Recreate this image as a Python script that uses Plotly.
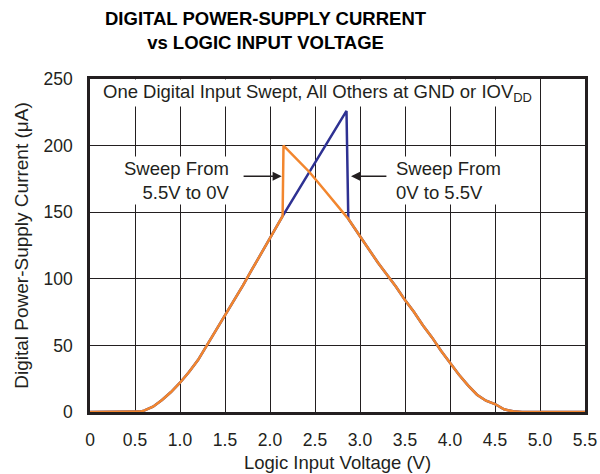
import plotly.graph_objects as go

# Shared rising portion (both sweep directions), logic input voltage (V) vs current (uA)
rise_v = [0.0, 0.5, 0.55, 0.6, 0.7, 0.8, 0.9, 1.0, 1.1, 1.2, 1.3, 1.4, 1.5,
          1.6, 1.7, 1.8, 1.9, 2.0, 2.14]
rise_i = [0, 0, 0.3, 1, 4, 9, 15, 22, 30, 39, 50, 61, 72, 83, 95, 107, 119, 131, 147]

# Upward sweep (0V to 5.5V) keeps climbing until it snaps down
up_v = [2.85, 2.87]
up_i = [226, 145]

# Downward sweep (5.5V to 0V) upper branch before its snap
down_v = [2.15, 2.3, 2.44, 2.6, 2.75, 2.87]
down_i = [200, 190, 180, 167, 155, 145]

# Shared falling portion
fall_v = [2.87, 3.0, 3.1, 3.2, 3.3, 3.4, 3.5, 3.6, 3.7, 3.8, 3.9, 4.0, 4.1,
          4.2, 4.3, 4.4, 4.5, 4.6, 4.7, 4.8, 5.5]
fall_i = [145, 132, 122, 112, 103, 94, 84, 75, 65, 56, 46, 37, 28, 20, 13,
          8.5, 6, 2, 0.5, 0, 0]

x_ticks = [0, 0.5, 1.0, 1.5, 2.0, 2.5, 3.0, 3.5, 4.0, 4.5, 5.0, 5.5]
x_tick_text = ["0", "0.5", "1.0", "1.5", "2.0", "2.5", "3.0", "3.5", "4.0", "4.5", "5.0", "5.5"]
y_ticks = [0, 50, 100, 150, 200, 250]

BLUE = "#2e3192"
ORANGE = "#f2862e"
INK = "#231f20"
FONT = "Liberation Sans, Arial, sans-serif"

fig = go.Figure()
fig.add_trace(go.Scatter(
    x=rise_v + up_v + fall_v[1:], y=rise_i + up_i + fall_i[1:],
    mode="lines", line=dict(color=BLUE, width=2.5), showlegend=False))
fig.add_trace(go.Scatter(
    x=rise_v + down_v + fall_v[1:], y=rise_i + down_i + fall_i[1:],
    mode="lines", line=dict(color=ORANGE, width=2.5), showlegend=False))

# Chart title
fig.add_annotation(
    x=(266 - 90) / 495, y=1 + (79 - 30) / 333, xref="paper", yref="paper",
    xanchor="center", yanchor="middle", showarrow=False,
    text="<b>DIGITAL POWER-SUPPLY CURRENT<br>vs LOGIC INPUT VOLTAGE</b>",
    font=dict(family=FONT, size=18.5, color="black"))

fig.add_annotation(
    x=0.12, y=250, xref="x", yref="y", xanchor="left", yanchor="top",
    text="One Digital Input Swept, All Others at GND or IOV<sub>DD</sub>",
    showarrow=False, bgcolor="white", borderpad=1,
    font=dict(family=FONT, size=18.5, color=INK))

fig.add_annotation(
    x=1.578, y=173.5, xref="x", yref="y", xanchor="right", yanchor="middle",
    align="right", text="Sweep From<br>5.5V to 0V", showarrow=False,
    bgcolor="white", font=dict(family=FONT, size=18.5, color=INK))
fig.add_annotation(
    x=3.378, y=173.5, xref="x", yref="y", xanchor="left", yanchor="middle",
    align="left", text="Sweep From<br>0V to 5.5V", showarrow=False,
    bgcolor="white", font=dict(family=FONT, size=18.5, color=INK))

# Direction arrows
fig.add_annotation(x=2.13, y=177, ax=1.69, ay=177, xref="x", yref="y",
                   axref="x", ayref="y", text="", showarrow=True,
                   arrowhead=2, arrowsize=1.3, arrowwidth=1.4, arrowcolor=INK)
fig.add_annotation(x=2.90, y=177, ax=3.31, ay=177, xref="x", yref="y",
                   axref="x", ayref="y", text="", showarrow=True,
                   arrowhead=2, arrowsize=1.3, arrowwidth=1.4, arrowcolor=INK)

fig.update_layout(
    width=600, height=474,
    margin=dict(l=90, r=15, t=79, b=62),
    paper_bgcolor="white", plot_bgcolor="white",
    font=dict(family=FONT, size=17.5, color=INK),
)
fig.update_xaxes(
    range=[0, 5.5], tickvals=x_ticks, ticktext=x_tick_text, automargin=False,
    showgrid=True, gridcolor=INK, gridwidth=1.2,
    showline=True, linecolor=INK, linewidth=2.5, mirror=True,
    ticks="", ticklabelstandoff=10, zeroline=False,
    tickfont=dict(family=FONT, size=17.5, color=INK),
    title=dict(text="Logic Input Voltage (V)", standoff=8,
               font=dict(family=FONT, size=18.5, color=INK)))
fig.update_yaxes(
    range=[0, 250], tickvals=y_ticks, automargin=False,
    showgrid=True, gridcolor=INK, gridwidth=1.2,
    showline=True, linecolor=INK, linewidth=2.5, mirror=True,
    ticks="", ticklabelstandoff=11, zeroline=False,
    tickfont=dict(family=FONT, size=17.5, color=INK),
    title=dict(text="Digital Power-Supply Current (\u03bcA)", standoff=10,
               font=dict(family=FONT, size=19, color=INK)))

fig.write_html("out.html")
